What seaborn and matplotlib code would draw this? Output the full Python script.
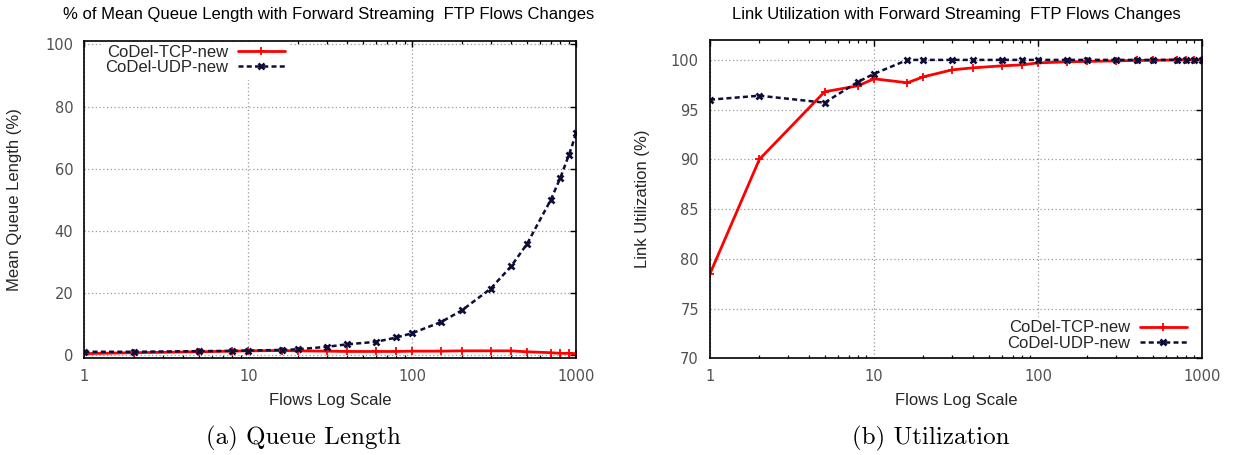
import matplotlib
matplotlib.use("Agg")
import matplotlib.pyplot as plt
import matplotlib.ticker as mticker
import numpy as np
import pandas as pd
import seaborn as sns

# Number of forward FTP flows (log scale)
flows = [1, 2, 5, 8, 10, 16, 20, 30, 40, 60, 80, 100, 150, 200, 300, 400, 500, 700, 800, 900, 1000]

# Mean queue length (% of buffer)
queue_tcp = [0.4, 0.7, 1.0, 1.2, 1.3, 1.4, 1.3, 1.2, 1.1, 1.1, 1.1, 1.2, 1.2, 1.3, 1.3, 1.3, 1.0, 0.7, 0.5, 0.5, 0.4]
queue_udp = [1.0, 1.0, 1.2, 1.3, 1.4, 1.6, 1.8, 2.6, 3.4, 4.2, 5.6, 7.0, 10.6, 14.3, 21.3, 28.5, 35.7, 50.0, 57.1, 64.3, 71.4]

# Link utilization (%)
util_tcp = [78.5, 90.0, 96.8, 97.4, 98.1, 97.7, 98.3, 99.0, 99.2, 99.4, 99.5, 99.7, 99.8, 99.85, 99.9, 99.95, 99.95, 100.0, 100.0, 100.0, 100.0]
util_udp = [96.0, 96.4, 95.7, 97.8, 98.6, 100.0, 100.0, 100.0, 100.0, 100.0, 100.0, 100.0, 100.0, 100.0, 100.0, 100.0, 100.0, 100.0, 100.0, 100.0, 100.0]

series_names = ["CoDel-TCP-new", "CoDel-UDP-new"]
x_ticks = [1, 10, 100, 1000]
x_tick_labels = ["1", "10", "100", "1000"]

titles = ["% of Mean Queue Length with Forward Streaming  FTP Flows Changes",
          "Link Utilization with Forward Streaming  FTP Flows Changes"]
ylabels = ["Mean Queue Length (%)", "Link Utilization (%)"]
captions = ["(a) Queue Length", "(b) Utilization"]

sns.set_theme(style="white")
plt.rcParams["font.family"] = ["Liberation Sans", "DejaVu Sans"]

W, H = 1235, 455
fig = plt.figure(figsize=(W / 100, H / 100), dpi=100)


def fx(px):
    return px / W


def fy(py):
    return 1 - py / H


ax1 = fig.add_axes([fx(84.3), fy(358.3), fx(576.3) - fx(84.3), fy(40.7) - fy(358.3)])
ax2 = fig.add_axes([fx(710), fy(358.3), fx(1202) - fx(710), fy(40.0) - fy(358.3)])

RED = "#ff0000"
NAVY = "#0d0d3a"


def draw(ax, tcp, udp):
    df = pd.DataFrame({"flows": flows, "tcp": tcp, "udp": udp})
    sns.lineplot(data=df, x="flows", y="tcp", ax=ax, color=RED, lw=2.0,
                 marker="+", markersize=6, mew=1.3, mec=RED,
                 label=series_names[0], zorder=3)
    sns.lineplot(data=df, x="flows", y="udp", ax=ax, color=NAVY, lw=1.8,
                 marker="x", markersize=5, mew=1.9, mec=NAVY,
                 label=series_names[1], zorder=4)
    ax.lines[-1].set_dashes([2.0, 1.3])
    ax.set_xscale("log")
    ax.set_xlim(1, 1000)
    ax.set_xticks(x_ticks)
    ax.set_xticklabels(x_tick_labels)
    ax.xaxis.set_minor_locator(mticker.LogLocator(base=10, subs=np.arange(2, 10), numticks=20))
    ax.xaxis.set_minor_formatter(mticker.NullFormatter())
    ax.grid(True, which="major", color="#9a9a9a", lw=0.9, ls=(0, (1, 2)))
    ax.grid(False, which="minor")
    ax.tick_params(which="major", direction="in", length=4, width=1.0, color="black",
                   top=True, right=True, labelsize=10.5, labelcolor="#505050", pad=8)
    ax.tick_params(which="minor", direction="in", length=2.5, width=0.9, color="black",
                   top=True, bottom=True, left=False, right=False)
    ax.tick_params(axis="y", which="minor", left=False, right=False)
    for s in ax.spines.values():
        s.set_visible(True)
        s.set_color("black")
        s.set_linewidth(1.2)
        s.set_zorder(6)
    ax.set_xlabel("Flows Log Scale", fontsize=12)
    ax.set_facecolor("white")


draw(ax1, queue_tcp, queue_udp)
ax1.set_ylim(-1.1, 101.2)
ax1.set_yticks([0, 20, 40, 60, 80, 100])
ax1.set_ylabel(ylabels[0], fontsize=12)
ax1.yaxis.set_label_coords((15 - 84.3) / 492, 0.5)
ax1.xaxis.set_label_coords(0.5, (358.3 - 400) / 317.6)
ax1.xaxis.label.set_va("center")
ax1.yaxis.label.set_va("center")

draw(ax2, util_tcp, util_udp)
ax2.set_ylim(70, 102)
ax2.set_yticks([70, 75, 80, 85, 90, 95, 100])
ax2.set_ylabel(ylabels[1], fontsize=12)
ax2.yaxis.set_label_coords((642 - 710) / 492, 0.5)
ax2.xaxis.set_label_coords(0.5, (358.3 - 400) / 318.3)
ax2.xaxis.label.set_va("center")
ax2.yaxis.label.set_va("center")

for ax in (ax1, ax2):
    for lab in ax.get_xticklabels() + ax.get_yticklabels():
        lab.set_fontfamily("DejaVu Sans")

leg_kw = dict(markerfirst=False, frameon=True, fancybox=False, edgecolor="white",
              facecolor="white", framealpha=1.0, fontsize=12, handlelength=2.8,
              handletextpad=0.6, labelspacing=0.02, borderpad=0.2, borderaxespad=0)

leg1 = ax1.legend(loc="upper right", bbox_to_anchor=(fx(288), fy(41.5)),
                  bbox_transform=fig.transFigure, **leg_kw)
leg1.set_zorder(5)
leg2 = ax2.legend(loc="lower right", bbox_to_anchor=(fx(1190), fy(354)),
                  bbox_transform=fig.transFigure, **leg_kw)
leg2.set_zorder(5)

fig.text(fx(329), fy(15), titles[0], ha="center", va="center", fontsize=12, color="black")
fig.text(fx(956), fy(15), titles[1], ha="center", va="center", fontsize=12, color="black")

fig.text(fx(303.5), fy(438), captions[0], ha="center", va="center", fontsize=18,
         family="cmr10", color="black")
fig.text(fx(931), fy(438), captions[1], ha="center", va="center", fontsize=18,
         family="cmr10", color="black")

fig.savefig("out.png", dpi=100, facecolor="white")
